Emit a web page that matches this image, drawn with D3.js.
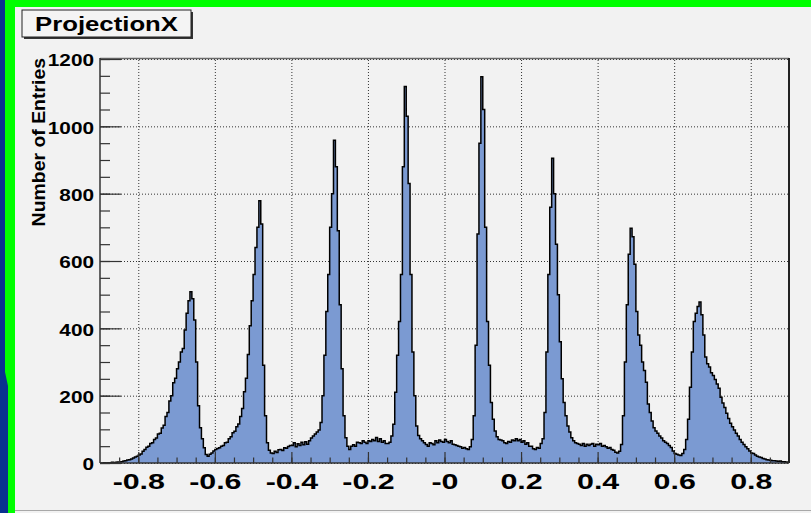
<!DOCTYPE html>
<html>
<head>
<meta charset="utf-8">
<script src="https://cdn.jsdelivr.net/npm/d3@7"></script>
<style>
  html, body { margin: 0; padding: 0; background: #f2f2f2; }
  svg { display: block; }
  text { font-family: "Liberation Sans", Arial, Helvetica, sans-serif; font-weight: bold; fill: #000; }
</style>
</head>
<body>
<svg id="canvas" width="811" height="513"></svg>
<script>
// Histogram definition: 360 equal bins on [-0.9, 0.9]
const histTitle = "ProjectionX";
const yAxisTitle = "Number of Entries";
const xMin = -0.9;
const xMax = 0.9;

// bin contents, 20 bins (0.1 in x) per row
const entries = [
  0,0,1,0,1,1,2,1,2,3, 3,4,6,7,9,10,12,15,18,20,
  24,27,35,40,47,50,58,60,70,74, 86,88,104,112,138,150,184,200,238,252,
  280,300,330,340,395,445,482,509,488,425, 300,170,105,72,45,25,20,26,30,36,
  40,43,45,50,52,60,62,72,78,90, 94,108,116,138,162,212,252,322,408,482,
  560,640,700,779,710,290,140,60,38,30, 28,35,31,39,40,37,45,44,49,52,
  52,60,48,57,52,62,54,63,56,66, 74,80,86,92,98,120,200,320,450,560,
  700,800,959,880,690,470,280,140,75,50, 40,50,54,50,62,60,58,66,62,58,
  66,64,70,66,76,64,72,62,66,58, 58,62,80,115,210,320,420,560,880,1118,
  1030,830,560,330,200,110,82,72,66,60, 55,50,60,58,54,66,60,68,64,62,
  70,64,60,66,56,54,52,50,48,44, 46,42,40,48,70,140,350,680,950,1147,
  1050,700,420,290,180,130,95,78,70,68, 66,60,58,64,62,68,66,72,66,70,
  62,66,56,60,50,50,42,40,46,44, 58,72,150,330,560,760,905,800,650,500,
  360,250,180,140,110,92,75,66,60,58, 56,52,58,50,56,52,56,58,50,56,
  54,58,50,52,48,44,46,40,38,32, 30,35,55,140,300,470,620,697,672,590,
  450,380,350,300,275,240,175,150,125,105, 95,88,80,74,66,62,58,52,46,36,
  28,26,24,22,28,40,70,130,225,330, 420,445,465,478,440,380,315,295,285,268,
  260,248,235,222,195,178,165,148,132,118, 108,98,88,80,70,62,55,48,42,36,
  30,28,24,20,18,16,13,12,10,9, 8,7,7,6,5,6,4,4,3,2
];

const xTicks = [-0.8, -0.6, -0.4, -0.2, 0, 0.2, 0.4, 0.6, 0.8];
const xTickLabels = ["-0.8", "-0.6", "-0.4", "-0.2", "-0", "0.2", "0.4", "0.6", "0.8"];
const xMinorTicks = d3.range(-0.85, 0.9, 0.05).map(v => +v.toFixed(2));
const yTicks = [0, 200, 400, 600, 800, 1000, 1200];
const yMinorTicks = d3.range(0, 1201, 50);
const yMax = 1200;

const svg = d3.select("#canvas");
const W = 811, H = 513;
const frame = { left: 100, right: 789, top: 59, bottom: 463 };

// ---- window decoration and pad background ----
svg.append("rect").attr("width", W).attr("height", H).attr("fill", "#f2f2f2");
svg.append("rect").attr("x", 0).attr("y", 0).attr("width", W).attr("height", 7).attr("fill", "#00ff00");
svg.append("rect").attr("x", 5).attr("y", 0).attr("width", 10).attr("height", H).attr("fill", "#00ff00");
svg.append("path")
  .attr("d", "M0,0 L5,0 L5,372 L8,386 L8,513 L0,513 Z")
  .attr("fill", "#0a3290");
svg.append("line").attr("x1", 15).attr("x2", W).attr("y1", 510.5).attr("y2", 510.5)
  .attr("stroke", "#a8a8a8").attr("stroke-width", 1);

// ---- scales ----
const x = d3.scaleLinear().domain([xMin, xMax]).range([frame.left, frame.right]);
const y = d3.scaleLinear().domain([0, yMax]).range([frame.bottom, frame.top]);

// ---- grid ----
const grid = svg.append("g");
grid.append("g")
  .attr("transform", `translate(0,${frame.bottom})`)
  .call(d3.axisBottom(x).tickValues(xTicks).tickSize(-(frame.bottom - frame.top)).tickFormat(""))
  .call(g => g.select(".domain").remove());
grid.append("g")
  .attr("transform", `translate(${frame.left},0)`)
  .call(d3.axisLeft(y).tickValues(yTicks).tickSize(-(frame.right - frame.left)).tickFormat(""))
  .call(g => g.select(".domain").remove());
grid.selectAll("line")
  .attr("stroke", "#333")
  .attr("stroke-width", 1)
  .attr("stroke-dasharray", "1,2");

// ---- histogram ----
const bw = (xMax - xMin) / entries.length;
const pts = [{ e: xMin, v: 0 }]
  .concat(entries.map((v, i) => ({ e: xMin + i * bw, v })))
  .concat([{ e: xMax, v: entries[entries.length - 1] }, { e: xMax, v: 0 }]);

const area = d3.area()
  .x(d => x(d.e))
  .y0(y(0))
  .y1(d => y(d.v))
  .curve(d3.curveStepAfter);
const outline = d3.line()
  .x(d => x(d.e))
  .y(d => y(d.v))
  .curve(d3.curveStepAfter);

svg.append("path").datum(pts).attr("d", area).attr("fill", "#7b9ad2");
svg.append("path").datum(pts).attr("d", outline)
  .attr("fill", "none").attr("stroke", "#000").attr("stroke-width", 1.5)
  .attr("stroke-linejoin", "miter");

// ---- frame ----
svg.append("line").attr("x1", frame.left).attr("x2", frame.right)
  .attr("y1", frame.top - 0.5).attr("y2", frame.top - 0.5)
  .attr("stroke", "#6a6a6a").attr("stroke-width", 1.5);
svg.append("line").attr("x1", frame.right).attr("x2", frame.right)
  .attr("y1", frame.top - 1).attr("y2", frame.bottom)
  .attr("stroke", "#222").attr("stroke-width", 2);

// ---- axes ----
const axisColor = "#333";
const xLabelScale = 1.38;
const yLabelScale = 1.3;

// x minor ticks
svg.append("g")
  .attr("transform", `translate(0,${frame.bottom})`)
  .call(d3.axisBottom(x).tickValues(xMinorTicks).tickSize(-5.5).tickFormat(""))
  .call(g => g.select(".domain").remove())
  .selectAll("line").attr("stroke", axisColor).attr("stroke-width", 1.2);

// x major ticks + labels
const xAxis = svg.append("g")
  .attr("transform", `translate(0,${frame.bottom})`)
  .call(d3.axisBottom(x).tickValues(xTicks).tickSize(-11).tickPadding(10)
    .tickFormat((d, i) => xTickLabels[i]));
xAxis.select(".domain").attr("stroke", axisColor).attr("stroke-width", 1.5)
  .attr("d", `M${frame.left},0H${frame.right}`);
xAxis.selectAll("line").attr("stroke", axisColor).attr("stroke-width", 1.2);
xAxis.selectAll("text")
  .attr("font-size", 22)
  .attr("transform", `scale(${xLabelScale},1)`);

// y minor ticks
svg.append("g")
  .attr("transform", `translate(${frame.left},0)`)
  .call(d3.axisLeft(y).tickValues(yMinorTicks).tickSize(-10).tickFormat(""))
  .call(g => g.select(".domain").remove())
  .selectAll("line").attr("stroke", axisColor).attr("stroke-width", 1.2);

// y major ticks + labels
const yAxis = svg.append("g")
  .attr("transform", `translate(${frame.left},0)`)
  .call(d3.axisLeft(y).tickValues(yTicks).tickSize(-21).tickPadding(6)
    .tickFormat(d3.format("d")));
yAxis.select(".domain").attr("stroke", axisColor).attr("stroke-width", 1.5)
  .attr("d", `M0,${frame.bottom}V${frame.top - 1}`);
yAxis.selectAll("line").attr("stroke", axisColor).attr("stroke-width", 1.2);
yAxis.selectAll("text")
  .attr("font-size", 16)
  .attr("x", -6 / yLabelScale)
  .attr("dy", "0.42em")
  .attr("transform", `scale(${yLabelScale},1)`);

// y axis title, right-aligned at the top of the axis
svg.append("text")
  .attr("transform", "translate(45,58) rotate(-90) scale(1.08,1)")
  .attr("text-anchor", "end")
  .attr("font-size", 18)
  .text(yAxisTitle);

// ---- title box ----
const tb = { x: 22, y: 10, w: 169, h: 27 };
svg.append("rect")
  .attr("x", tb.x + 2).attr("y", tb.y + 2).attr("width", tb.w).attr("height", tb.h)
  .attr("fill", "#333");
svg.append("rect")
  .attr("x", tb.x).attr("y", tb.y).attr("width", tb.w).attr("height", tb.h)
  .attr("fill", "#f4f4f4").attr("stroke", "#222").attr("stroke-width", 1);
svg.append("text")
  .attr("transform", `translate(${tb.x + tb.w / 2},31) scale(1.32,1)`)
  .attr("text-anchor", "middle")
  .attr("font-size", 19.5)
  .text(histTitle);
</script>
</body>
</html>
